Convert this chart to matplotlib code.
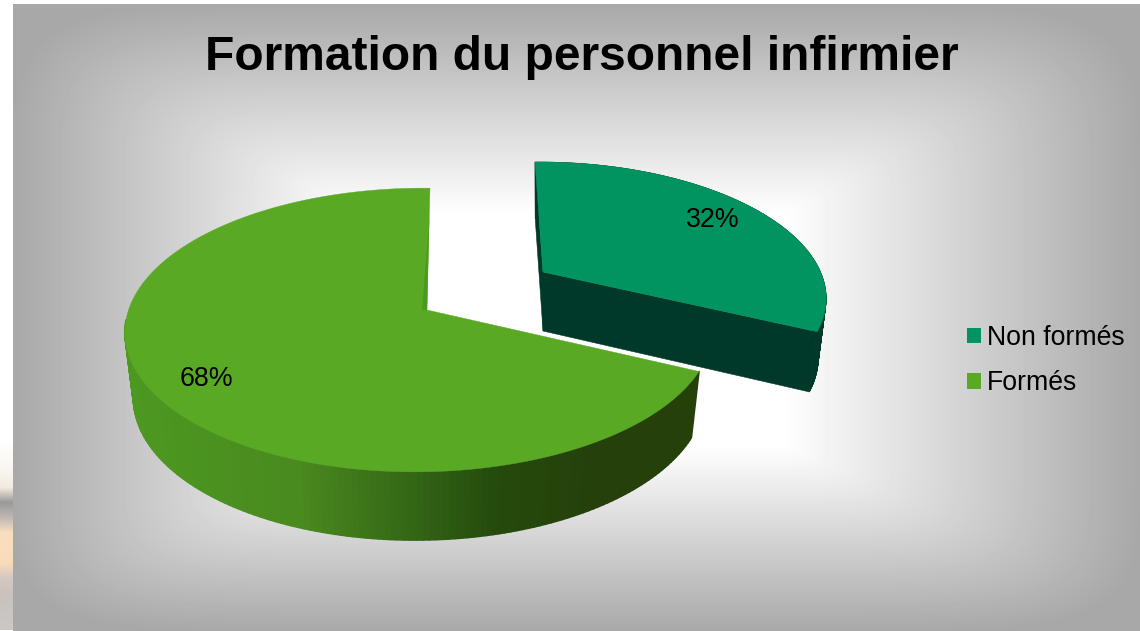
import numpy as np
import matplotlib
matplotlib.use("Agg")
import matplotlib.pyplot as plt
from matplotlib.patches import Polygon, Patch
from matplotlib.collections import PolyCollection

plt.rcParams['font.family'] = ['Liberation Sans', 'DejaVu Sans']

title = "Formation du personnel infirmier"
categories = ["Non formés", "Formés"]
values = [32, 68]
colors_top = ["#029460", "#5AA925"]

W, H = 1140, 631
fig = plt.figure(figsize=(W / 100, H / 100), dpi=100)
ax = fig.add_axes([0, 0, 1, 1])
ax.set_xlim(0, W)
ax.set_ylim(H, 0)
ax.axis("off")

# chart-area gradient (rectangular path fill, softened corners)
L, T, R, Bm = 13, 4, 1140, 631
xx, yy = np.meshgrid(np.arange(L, R) + .5, np.arange(T, Bm) + .5)
cx0, cx1, cy0, cy1 = 360, 780, 215, 445
tx = np.maximum(np.maximum((cx0 - xx) / (cx0 - L), (xx - cx1) / (R - cx1)), 0)
ty = np.maximum(np.maximum((cy0 - yy) / (cy0 - T), (yy - cy1) / (Bm - cy1)), 0)
t = np.minimum((tx ** 5 + ty ** 5) ** .2, 1)
grey = 1 - 0.34 * t
ax.imshow(grey, cmap="gray", vmin=0, vmax=1, extent=(L, R, Bm, T), aspect="auto",
          interpolation="bilinear", zorder=0)

# strip of the slide behind the chart
strip = np.array([[1, 1, 1], [1, 1, 1], [.99, .98, .97], [.97, .96, .94], [.95, .92, .88],
                  [.60, .60, .60], [.75, .72, .70], [.98, .87, .74], [.98, .87, .74], [.98, .86, .72],
                  [.84, .79, .76], [.79, .76, .74], [.79, .77, .75], [.80, .78, .77]])
ax.imshow(strip[:, None, :], extent=(0, L, 630, 420), aspect="auto", interpolation="bilinear", zorder=0)
ax.set_xlim(0, W)
ax.set_ylim(H, 0)


def project(theta, P, r=1.0, bottom=False):
    s, c = r * np.sin(theta), r * np.cos(theta)
    w = 1 + P["k"] * c + P["m"] * s
    dx = (P["B"] * s + P["S"] * c) / w
    dy = -P["A"] * c / w
    if bottom:
        return P["ax"] + 0.972 * dx, P["ay"] + P["d"] + 1.02 * dy
    return P["ax"] + dx, P["ay"] + dy


P_slice = dict(ax=543, ay=272, A=128, k=.164, B=272, m=-.02, S=-9.3, d=59)
P_main = dict(ax=427, ay=310, A=139, k=.141, B=291, m=.025, S=3.4, d=65)

fr = np.array(values) / sum(values)
edges = 2 * np.pi * np.concatenate([[0], np.cumsum(fr)])


def rim(a, b, P, bottom=False, n=240):
    th = np.linspace(a, b, n)
    return np.column_stack(project(th, P, bottom=bottom))


def apex(P, bottom=False):
    return np.array(project(0.0, P, r=0.0, bottom=bottom))


# ---- exploded slice (Non formés)
a, b = edges[0], edges[1]
wall_dark = "#00392A"
top = rim(a, b, P_slice)
bot = rim(a, b, P_slice, bottom=True)
ax.add_collection(PolyCollection([[top[i], top[i + 1], bot[i + 1], bot[i]] for i in range(len(top) - 1)],
                                 facecolors=wall_dark, edgecolors=wall_dark, linewidths=.4, zorder=2))
ax.add_patch(Polygon(np.vstack([top[-1], apex(P_slice), apex(P_slice, True), bot[-1]]),
                     fc=wall_dark, ec=wall_dark, lw=.4, zorder=2))
ax.add_patch(Polygon(np.vstack([top[0], bot[0], apex(P_slice, True), apex(P_slice)]),
                     fc=wall_dark, ec=wall_dark, lw=.4, zorder=2))
ax.add_patch(Polygon(np.vstack([apex(P_slice), top]), fc=colors_top[0], ec=colors_top[0], lw=.3, zorder=3))

# ---- main slice (Formés)
a, b = edges[1], edges[2]
th = np.linspace(a, b, 220)
tp = np.column_stack(project(th, P_main))
bt = np.column_stack(project(th, P_main, bottom=True))
shade_x = [120, 300, 400, 500, 600, 700]
shade_r = [.30, .29, .21, .145, .145, .15]
shade_g = [.60, .54, .42, .29, .25, .25]
shade_b = [.13, .12, .09, .05, .04, .04]
quads, cols = [], []
for i in range(len(th) - 1):
    if tp[i, 1] < 320:
        continue
    quads.append([tp[i], tp[i + 1], bt[i + 1], bt[i]])
    xm = tp[i, 0]
    cols.append((np.interp(xm, shade_x, shade_r), np.interp(xm, shade_x, shade_g), np.interp(xm, shade_x, shade_b)))
ax.add_collection(PolyCollection(quads, facecolors=cols, edgecolors=cols, linewidths=1.1, zorder=4))
ax.add_patch(Polygon(np.vstack([apex(P_main), tp]), fc=colors_top[1], ec=colors_top[1], lw=.3, zorder=5))
# inner wall sliver seen along the start edge
ap, st = apex(P_main), tp[-1]
ax.add_patch(Polygon(np.vstack([st + .25 * (ap - st), ap, ap + np.array([-5, 0])]),
                     fc="#4A9A1F", ec="none", zorder=6))

# ---- percentage labels
for v, P, e0, e1, r, nudge in zip(values, [P_slice, P_main], edges[:-1], edges[1:], [.80, .82], [0, 3]):
    x, y = project((e0 + e1) / 2, P, r=r)
    ax.text(x, y + nudge, f"{v}%", ha="center", va="center", fontsize=19.3, color="black", zorder=7)

ax.text(582, 58, title, ha="center", va="center", fontsize=34.5, fontweight="bold", color="black", zorder=7)

handles = [Patch(fc=c, ec="none", label=l) for c, l in zip(colors_top, categories)]
ax.legend(handles=handles, loc="upper left", bbox_to_anchor=(967, 325), bbox_transform=ax.transData,
          frameon=False, fontsize=19.2, handlelength=.53, handleheight=.53, handletextpad=.22,
          labelspacing=.72, borderpad=0, borderaxespad=0)

fig.savefig("out.png", dpi=100)
